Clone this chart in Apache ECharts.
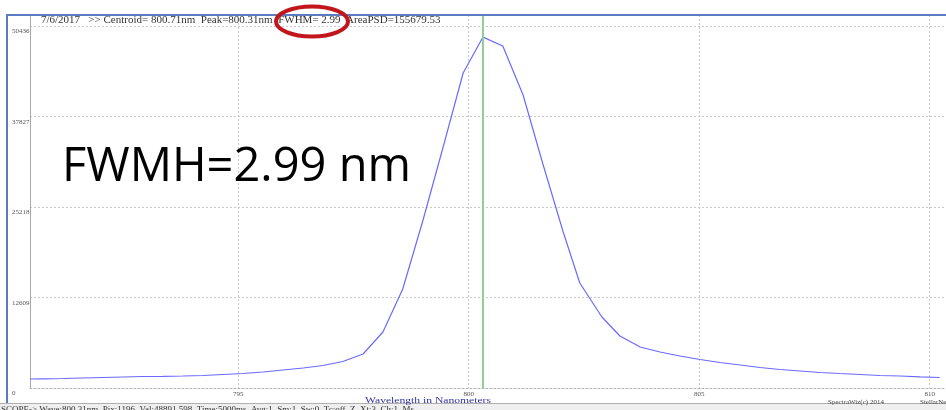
<!DOCTYPE html>
<html><head><meta charset="utf-8">
<script src="https://cdn.jsdelivr.net/npm/echarts@6/dist/echarts.min.js"></script>
<style>html,body{margin:0;padding:0;background:#fff;overflow:hidden}#c{width:946px;height:410px}</style>
</head><body><div id="c"></div>
<script>
// Spectrum readings (wavelength in nm, counts)
const wavelengths = [790.48,790.77,791.20,791.63,792.07,792.50,792.93,793.37,793.80,794.24,794.67,795.10,795.54,795.97,796.41,796.84,797.27,797.71,798.14,798.57,799.01,799.44,799.88,800.31,800.74,801.18,801.61,802.05,802.41,802.89,803.28,803.72,804.15,804.58,805.02,805.45,805.89,806.32,806.75,807.19,807.62,808.05,808.49,808.92,809.36,809.79,810.22];
const counts = [1254,1282,1324,1393,1463,1533,1602,1630,1672,1742,1881,2020,2229,2508,2787,3135,3692,4737,7802,13794,23407,33439,43889,48892,47651,40824,31210,21735,14630,9892,7245,5713,5016,4459,3971,3553,3205,2856,2578,2369,2160,2020,1881,1742,1672,1560,1463];
const yTicks = [0,12609,25218,37827,50436];
const xTicks = [795,800,805,810];
const peakWavelength = 800.31;
const headerText = '7/6/2017   >> Centroid= 800.71nm  Peak=800.31nm  FWHM= 2.99  AreaPSD=155679.53';
const bigText = 'FWMH=2.99 nm';
const xTitle = 'Wavelength in Nanometers';
const statusText = 'SCOPE-> Wave:800.31nm  Pix:1196  Val:48891.598  Time:5000ms  Avg:1  Sm:1  Sw:0  Tc:off  Z  Xt:3  Ch:1  Ms';
const footLeft = 'SpectraWiz(c) 2014';
const footRight = 'StellarNet';

const chart = echarts.init(document.getElementById('c'), null, {renderer:'canvas'});
const serif = '"Liberation Serif","DejaVu Serif",serif';
const grid = {left:30, right:0, top:15, bottom:22};
const yMax = yTicks[yTicks.length-1] * 373 / 362;
chart.setOption({
  animation:false,
  backgroundColor:'#fff',
  grid: grid,
  xAxis:{
    type:'value', min:790.484, max:810.354,
    axisLine:{show:true, lineStyle:{color:'#b0b0b0', type:[2,2], width:1}},
    axisTick:{show:false, customValues:xTicks},
    axisLabel:{customValues:xTicks, fontSize:7, fontFamily:serif, color:'#555', margin:3},
    splitLine:{show:true, lineStyle:{color:'#c8c8c8', type:[2,2], width:1}}
  },
  yAxis:{
    type:'value', min:0, max:yMax, interval:yTicks[1],
    axisLine:{show:true, lineStyle:{color:'#a8a8a8', width:1}},
    axisTick:{show:false},
    axisLabel:{showMaxLabel:false, formatter:(v)=>String(Math.round(v)), fontSize:7, fontFamily:serif, color:'#555', align:'left', margin:18, verticalAlign:'top', padding:[2,0,0,0]},
    splitLine:{show:true, lineStyle:{color:'#c8c8c8', type:[2,2], width:1}}
  },
  series:[{
    type:'line', data: wavelengths.map((w,i)=>[w,counts[i]]),
    showSymbol:false, lineStyle:{color:'#6a6aff', width:1.2},
    markLine:{silent:true, symbol:'none', label:{show:false},
      lineStyle:{color:'#92cf92', width:2, type:'solid'},
      data:[{xAxis:peakWavelength}]}
  }],
  graphic:[
    {type:'rect', shape:{x:0,y:403,width:946,height:7}, style:{fill:'#efefef'}, z:100},
    {type:'line', shape:{x1:0,y1:403.5,x2:946,y2:403.5}, style:{stroke:'#b0b0b0', lineWidth:1}, z:101},
    {type:'line', shape:{x1:7,y1:15,x2:946,y2:15}, style:{stroke:'#5b7cc0', lineWidth:2}, z:101},
    {type:'line', shape:{x1:7,y1:14,x2:7,y2:403}, style:{stroke:'#5b7cc0', lineWidth:2}, z:101},
    {type:'text', x:41, y:20, style:{text:headerText, font:'11px '+serif, fill:'#333', align:'left', verticalAlign:'middle'}, z:102},
    {type:'text', x:62, y:144, style:{text:bigText, font:'47px "Open Sans"', fill:'#000', align:'left', verticalAlign:'alphabetic'}, z:102},
    {type:'ellipse', shape:{cx:312, cy:21.5, rx:36, ry:15}, style:{fill:'none', stroke:'#c0161c', lineWidth:4}, z:103},
    {type:'text', x:365, y:401, scaleX:1.45, style:{text:xTitle, font:'8px '+serif, fill:'#3333a0', align:'left', verticalAlign:'middle'}, z:102},
    {type:'text', x:828, y:402, style:{text:footLeft, font:'7px '+serif, fill:'#444', align:'left', verticalAlign:'middle'}, z:102},
    {type:'text', x:920, y:402, style:{text:footRight, font:'7px '+serif, fill:'#444', align:'left', verticalAlign:'middle'}, z:102},
    {type:'text', x:1, y:410, style:{text:statusText, font:'9px '+serif, fill:'#333', align:'left', verticalAlign:'middle'}, z:102}
  ]
});
</script></body></html>
